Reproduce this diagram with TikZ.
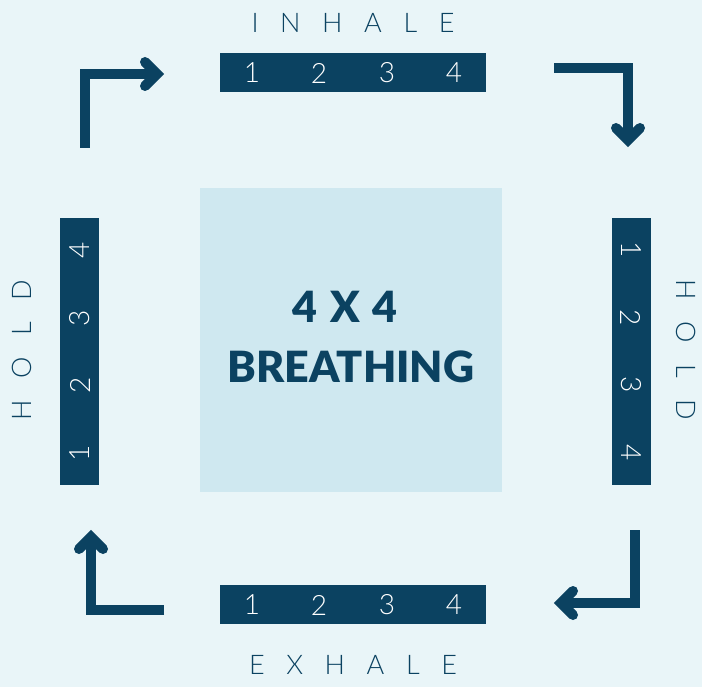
\documentclass[tikz,border=0pt]{standalone}
\usepackage{fontspec}
\setmainfont{Lato}
\IfFontExistsTF{Lato Black}{\newfontfamily\heavyfont{Lato Black}}{\newfontfamily\heavyfont{Lato}[UprightFont=*-Bold]}
\IfFontExistsTF{Lato Light}{\newfontfamily\thinfont{Lato Light}}{\newfontfamily\thinfont{Lato}}
\definecolor{navy}{HTML}{0B4261}
\definecolor{bgc}{HTML}{E9F5F8}
\definecolor{sqc}{HTML}{CFE8F0}
\newcommand\gapL{\hskip0.8em }
\newcommand\gapT{\hskip0.3em }
\begin{document}
\begin{tikzpicture}[x=1pt,y=-1pt,
  hbar/.style={fill=navy, draw=none, rectangle, inner sep=0, minimum width=266pt, minimum height=39pt},
  vbar/.style={fill=navy, draw=none, rectangle, inner sep=0, minimum width=39pt, minimum height=267pt},
  num/.style={text=white, font=\thinfont\fontsize{28}{30}\selectfont, inner sep=0},
  lbl/.style={text=navy, font=\thinfont\fontsize{27}{30}\selectfont, inner sep=0},
  ttl/.style={text=navy, font=\heavyfont\fontsize{43}{46}\selectfont, inner sep=0},
  shaft/.style={draw=navy, line width=10pt, line join=miter, line cap=butt},
  chev/.style={draw=navy, line width=10pt, line join=miter, line cap=round}]
\fill[bgc] (0,0) rectangle (702,687);
\useasboundingbox (0,0) rectangle (702,687);
% centre square
\node[fill=sqc, rectangle, inner sep=0, minimum width=302pt, minimum height=304pt] (sq) at (351,340) {};
\node[ttl] (t1) at (345,307) {4\gapT X\gapT 4};
\node[ttl] (t2) at (351,367) {BREATHING};
% bars
\node[hbar] (topbar) at (353,72.5) {};
\node[hbar] (botbar) at (353,604.5) {};
\node[vbar] (leftbar) at (79.5,351.5) {};
\node[vbar] (rightbar) at (631,351.5) {};
% top numbers
\node[num] (tn1) at (252,73) {1};
\node[num] (tn2) at (319,73) {2};
\node[num] (tn3) at (387,73) {3};
\node[num] (tn4) at (454,73) {4};
% bottom numbers
\node[num] (bn1) at (252,605) {1};
\node[num] (bn2) at (319,605) {2};
\node[num] (bn3) at (387,605) {3};
\node[num] (bn4) at (454,605) {4};
% left numbers
\node[num, rotate=90] (ln1) at (80,453) {1};
\node[num, rotate=90] (ln2) at (80,385) {2};
\node[num, rotate=90] (ln3) at (80,318) {3};
\node[num, rotate=90] (ln4) at (80,250) {4};
% right numbers
\node[num, rotate=-90] (rn1) at (631,250) {1};
\node[num, rotate=-90] (rn2) at (631,318) {2};
\node[num, rotate=-90] (rn3) at (631,385) {3};
\node[num, rotate=-90] (rn4) at (631,453) {4};
% labels
\node[lbl] (inhale) at (353,23) {I\gapL N\gapL H\gapL A\gapL L\gapL E};
\node[lbl] (exhale) at (353,665) {E\gapL X\gapL H\gapL A\gapL L\gapL E};
\node[lbl, rotate=90] (holdL) at (22,350) {H\gapL O\gapL L\gapL D};
\node[lbl, rotate=-90] (holdR) at (686,350) {H\gapL O\gapL L\gapL D};
% arrows
\draw[shaft] (84.5,148) -- (84.5,74) -- (157,74);
\draw[chev] (145,62) -- (157,74) -- (145,86);
\draw[shaft] (554,68) -- (628,68) -- (628,140);
\draw[chev] (616,128) -- (628,140) -- (640,128);
\draw[shaft] (635,530) -- (635,603) -- (561,603);
\draw[chev] (573,591) -- (561,603) -- (573,615);
\draw[shaft] (164,610) -- (91,610) -- (91,537);
\draw[chev] (79,549) -- (91,537) -- (103,549);
\end{tikzpicture}
\end{document}
